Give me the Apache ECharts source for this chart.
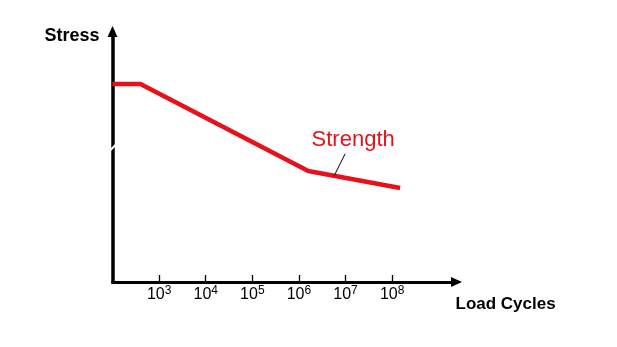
<!DOCTYPE html>
<html>
<head>
<meta charset="utf-8">
<script src="https://cdn.jsdelivr.net/npm/echarts@6/dist/echarts.min.js"></script>
<style>html,body{margin:0;padding:0;background:#fff;}#c{width:617px;height:347px;}</style>
</head>
<body>
<div id="c"></div>
<script>
// Load cycles as powers of ten (exponent) and stress (arbitrary units)
const cycleExponents = [2, 2.6, 6.2, 8.17];
const stressValues = [79.2, 79.2, 44.4, 37.6];
const tickExponents = [3, 4, 5, 6, 7, 8];
const seriesName = 'Strength';
const xTitle = 'Load Cycles';
const yTitle = 'Stress';

const chart = echarts.init(document.getElementById('c'), null, {renderer: 'canvas'});
const FONT = 'Liberation Sans, Arial, sans-serif';
const RED = '#e8101a';

chart.setOption({
  animation: false,
  backgroundColor: '#fff',
  grid: {left: 112.5, right: 160.5, top: 31.5, bottom: 65, containLabel: false},
  xAxis: {
    type: 'value', min: 2, max: 9.38, interval: 1,
    name: xTitle, nameLocation: 'end', nameGap: -1,
    nameTextStyle: {fontFamily: FONT, fontSize: 17, fontWeight: 'bold', color: '#000',
      align: 'left', verticalAlign: 'top', padding: [14, 0, 0, 0]},
    axisLine: {show: true, symbol: ['none', 'triangle'], symbolSize: [10, 11],
      lineStyle: {color: '#000', width: 3}},
    axisTick: {show: true, customValues: tickExponents, inside: true, length: 7,
      lineStyle: {color: '#000', width: 1.3}},
    axisLabel: {show: true, customValues: tickExponents, margin: 3, color: '#000',
      formatter: v => '{b|10}{s|' + v + '}',
      rich: {
        b: {fontFamily: FONT, fontSize: 16, color: '#000'},
        s: {fontFamily: FONT, fontSize: 12, color: '#000', padding: [0, 0, 8, 0]}
      }},
    splitLine: {show: false}
  },
  yAxis: {
    type: 'value', min: 0, max: 100.2,
    name: yTitle, nameLocation: 'end', nameGap: -4.5,
    nameTextStyle: {fontFamily: FONT, fontSize: 18, fontWeight: 'bold', color: '#000',
      align: 'right', verticalAlign: 'middle', padding: [0, 13, 0, 0]},
    axisLine: {show: true, symbol: ['none', 'triangle'], symbolSize: [10, 11],
      lineStyle: {color: '#000', width: 3.5}},
    axisTick: {show: false},
    axisLabel: {show: false},
    splitLine: {show: false}
  },
  series: [{
    name: seriesName,
    type: 'line',
    data: cycleExponents.map((x, i) => [x, stressValues[i]]),
    showSymbol: false,
    symbol: 'none',
    lineStyle: {color: RED, width: 4.5},
    z: 1
  }]
});

// Annotation: axis break mark and series label with leader line
const brk = chart.convertToPixel({xAxisIndex: 0, yAxisIndex: 0}, [2, 53.6]);
const anchorX = 6.755;
const t = (anchorX - cycleExponents[2]) / (cycleExponents[3] - cycleExponents[2]);
const anchorY = stressValues[2] + t * (stressValues[3] - stressValues[2]);
const anc = chart.convertToPixel({xAxisIndex: 0, yAxisIndex: 0}, [anchorX, anchorY]);

chart.setOption({
  graphic: [
    {type: 'line', z: 100, shape: {x1: brk[0] - 4, y1: brk[1] + 4, x2: brk[0] + 4, y2: brk[1] - 4},
      style: {stroke: '#fff', lineWidth: 2}},
    {type: 'line', z: 100, shape: {x1: anc[0], y1: anc[1], x2: anc[0] + 11, y2: anc[1] - 22},
      style: {stroke: '#000', lineWidth: 1}},
    {type: 'text', z: 100, x: anc[0] + 19, y: anc[1] - 36,
      style: {text: seriesName, fill: RED, font: '22px ' + FONT, textAlign: 'center', textVerticalAlign: 'middle'}}
  ]
});
</script>
</body>
</html>
